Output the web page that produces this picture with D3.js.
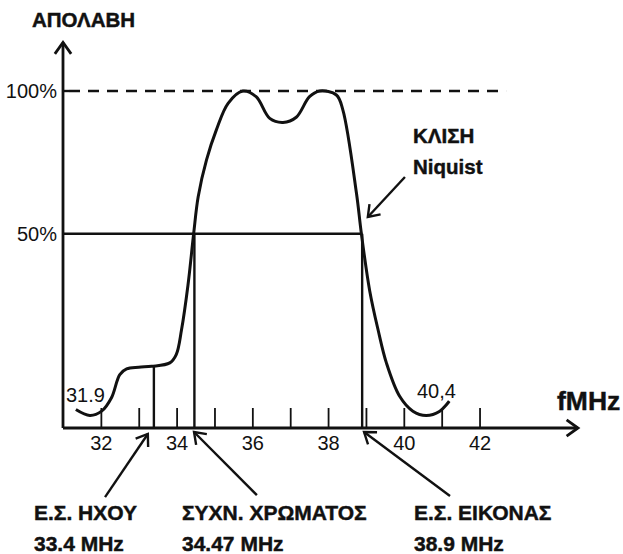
<!DOCTYPE html>
<html><head><meta charset="utf-8">
<script src="https://cdn.jsdelivr.net/npm/d3@7"></script>
<style>
html,body{margin:0;padding:0;background:#fff;}
svg text{font-family:"Liberation Sans",Arial,Helvetica,sans-serif;fill:#111;}
svg text.b{font-weight:bold;stroke:#111;stroke-width:0.45px;}
</style></head>
<body>
<svg id="chart" width="623" height="554"></svg>
<script>
// ---- data ----
const freqMHz = [31.34,31.71,32.02,32.28,32.5,32.68,33.0,33.34,33.82,33.99,34.13,34.3,34.45,34.57,34.79,35.05,35.36,35.75,36.1,36.46,36.81,37.16,37.51,37.78,38.22,38.39,38.75,38.88,39.1,39.32,39.54,39.89,40.24,40.59,40.95,41.2];
const gainPct = [-11.5,-13.6,-12.1,-7.4,0.7,2.7,3.3,3.6,4.8,7.7,16.4,32,50,63,75.9,86.4,95.7,100,98,90.4,89,90.8,98,100,98.6,93.4,64.2,50,30,16.4,4.8,-6.9,-12.1,-13.6,-12.1,-8.6];
const tickValues = [32,33,34,35,36,37,38,39,40,41,42];
const tickLabels = ["32","","34","","36","","38","","40","","42"];
const markerFreqs = [33.4, 34.47, 38.9];         // vertical lines
const markerNames = ["Ε.Σ. ΗΧΟΥ", "ΣΥΧΝ. ΧΡΩΜΑΤΟΣ", "Ε.Σ. ΕΙΚΟΝΑΣ"];
const markerValues = ["33.4 MHz", "34.47 MHz", "38.9 MHz"];
const yLevels = [50, 100];
const yLabels = ["50%", "100%"];
const endLabels = ["31.9", "40,4"];

// ---- scales ----
const svg = d3.select("#chart");
const x = d3.scaleLinear().domain([31, 44.6]).range([63, 578]);
const y = d3.scaleLinear().domain([-18, 100]).range([428, 91]);
const f0 = 31, v0 = -18;

const black = "#111";

function gainAt(f){
  for(let i=0;i<freqMHz.length-1;i++){
    if(f>=freqMHz[i] && f<=freqMHz[i+1]){
      const t=(f-freqMHz[i])/(freqMHz[i+1]-freqMHz[i]);
      return gainPct[i]+t*(gainPct[i+1]-gainPct[i]);
    }
  }
  return 0;
}

function arrow(g, x1,y1,x2,y2, head, width){
  g.append("line").attr("x1",x1).attr("y1",y1).attr("x2",x2).attr("y2",y2)
    .attr("stroke",black).attr("stroke-width",width);
  const a = Math.atan2(y2-y1, x2-x1);
  const ang = 0.62;
  const p1=[x2-head*Math.cos(a-ang), y2-head*Math.sin(a-ang)];
  const p2=[x2-head*Math.cos(a+ang), y2-head*Math.sin(a+ang)];
  g.append("path").attr("d",`M${p1[0]},${p1[1]}L${x2},${y2}L${p2[0]},${p2[1]}`)
    .attr("fill","none").attr("stroke",black).attr("stroke-width",width)
    .attr("stroke-linejoin","miter");
}

// ---- 100% dashed line ----
svg.append("line").attr("x1",x(f0)).attr("x2",x(42.7)).attr("y1",y(100)).attr("y2",y(100))
  .attr("stroke",black).attr("stroke-width",2.4).attr("stroke-dasharray","11,8")
  .attr("stroke-dashoffset",-6);
svg.append("line").attr("x1",x(f0)).attr("x2",x(f0)+6).attr("y1",y(100)).attr("y2",y(100))
  .attr("stroke",black).attr("stroke-width",2.4);

// ---- 50% line ----
svg.append("line").attr("x1",x(f0)).attr("x2",x(markerFreqs[2])).attr("y1",y(50)).attr("y2",y(50))
  .attr("stroke",black).attr("stroke-width",2.4);

// ---- vertical marker lines ----
markerFreqs.forEach((f,i)=>{
  const top = i===0 ? gainAt(f) : 50;
  svg.append("line").attr("x1",x(f)).attr("x2",x(f)).attr("y1",y(v0)).attr("y2",y(top))
    .attr("stroke",black).attr("stroke-width",2.4);
});

// ---- x axis ticks + labels ----
const xAxis = d3.axisBottom(x).tickValues(tickValues)
  .tickFormat((d,i)=>tickLabels[i]).tickSizeInner(-20).tickSizeOuter(0).tickPadding(8);
const gx = svg.append("g").attr("transform",`translate(0,${y(v0)})`).call(xAxis);
gx.select(".domain").remove();
gx.selectAll(".tick line").attr("stroke",black).attr("stroke-width",1.8);
gx.selectAll(".tick text").attr("font-size",20).attr("fill",black)
  .attr("font-family",'"Liberation Sans",Arial,sans-serif');

// ---- axes with arrows ----
arrow(svg, x(f0), y(v0), x(44.6), y(v0), 14, 2.8);
arrow(svg, x(f0), y(v0), x(f0), y(117), 14, 2.8);

// ---- curve ----
const pts = freqMHz.map((f,i)=>[f,gainPct[i]]);
svg.append("path").datum(pts)
  .attr("d", d3.line().x(d=>x(d[0])).y(d=>y(d[1])).curve(d3.curveCatmullRom.alpha(0.5)))
  .attr("fill","none").attr("stroke",black).attr("stroke-width",3);

// ---- y labels ----
yLevels.forEach((v,i)=>{
  svg.append("text").attr("x",x(f0)-6).attr("y",y(v)).attr("dy","0.36em")
    .attr("text-anchor","end").attr("font-size",20).text(yLabels[i]);
});

// ---- titles ----
svg.append("text").attr("class","b").attr("x",32).attr("y",27).attr("font-size",20.5)
  .text("ΑΠΟΛΑΒΗ");
svg.append("text").attr("class","b").attr("x",557).attr("y",410).attr("font-size",26.5)
  .text("fMHz");

// ---- end labels ----
svg.append("text").attr("x",66).attr("y",402).attr("font-size",20).text(endLabels[0]);
svg.append("text").attr("x",417).attr("y",398).attr("font-size",20).text(endLabels[1]);

// ---- Nyquist annotation ----
svg.append("text").attr("class","b").attr("x",413).attr("y",143).attr("font-size",20.5).text("ΚΛΙΣΗ");
svg.append("text").attr("class","b").attr("x",413).attr("y",174).attr("font-size",20.5).text("Niquist");
arrow(svg, x(40.03), y(69.9), x(39.05), y(55.9), 13, 2.4);

// ---- bottom annotations ----
const tips = [[33.24,-20.1],[34.46,-19.4],[38.95,-19.4]];
const tails = [[32.11,-42.2],[36.12,-41.5],[41.22,-41.8]];
const textX = [34, 182, 414];
markerFreqs.forEach((f,i)=>{
  arrow(svg, x(tails[i][0]), y(tails[i][1]), x(tips[i][0]), y(tips[i][1]), 13, 2.4);
  svg.append("text").attr("class","b").attr("x",textX[i]).attr("y",520).attr("font-size",21)
    .text(markerNames[i]);
  svg.append("text").attr("class","b").attr("x",textX[i]).attr("y",551).attr("font-size",21)
    .text(markerValues[i]);
});
</script>
</body></html>
